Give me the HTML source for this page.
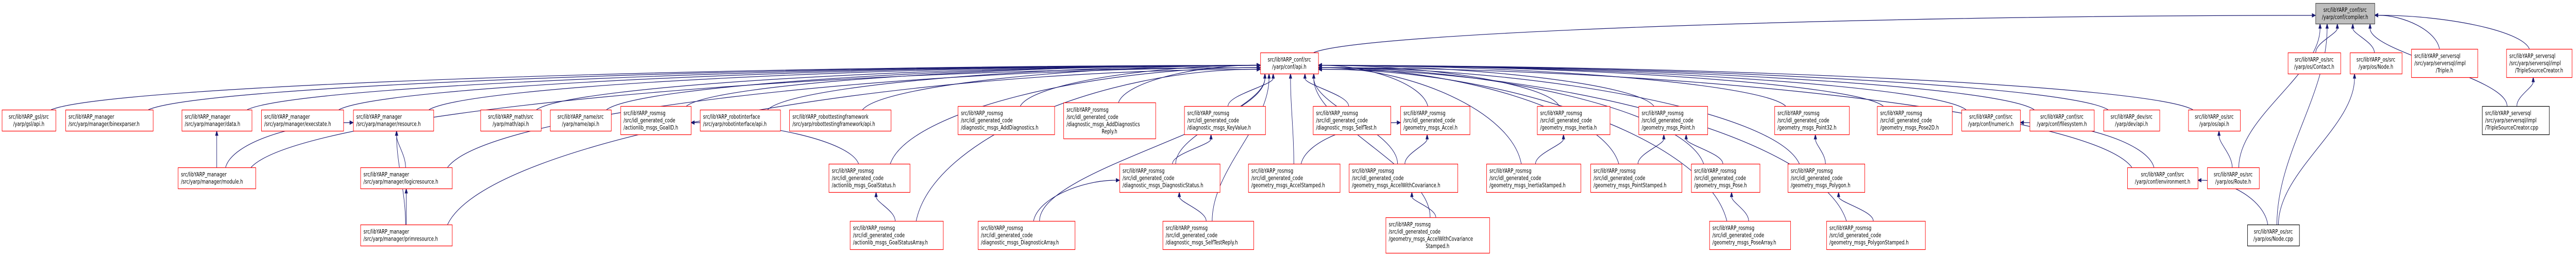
<!DOCTYPE html>
<html><head><meta charset="utf-8"><title>compiler.h include graph</title>
<style>html,body{margin:0;padding:0;background:#fff;width:100%;height:100%;overflow:hidden;}svg{display:block;width:100vw;height:100vh;}</style></head>
<body>
<svg id="g" xmlns="http://www.w3.org/2000/svg" viewBox="0 0 6804 497" preserveAspectRatio="none"></svg>
<script>
// Node data: id, x, y, w, h, label lines, style, alignment
const nodeIds = ["C","A","contact","nodeh","triple","tsch","gsl","binexp","data","exec","resource","math","name","goalid","robint","rtf","adddiag","adddiagr","keyvalue","selftest","accel","inertia","point","point32","pose2d","numeric","filesystem","devapi","osapi","tsccpp","module","logic","goalstatus","diagstatus","accelst","accelcov","inertiast","pointst","pose","polygon","environment","route","prim","goalarr","diagarr","selfrep","accelcovst","posearr","polyst","nodecpp"];
const nodeBoxes = {
C:[6116,6,156,40],A:[3329,102,153,41],contact:[6043,102,139,41],nodeh:[6207,102,137,41],triple:[6369,95,175,55],tsch:[6620,95,173,55],
gsl:[5,213,142,41],binexp:[173,213,231,41],data:[480,213,185,41],exec:[690,213,217,41],resource:[933,213,212,41],math:[1269,213,160,41],name:[1453,213,161,41],
goalid:[1639,206,186,55],robint:[1849,213,212,41],rtf:[2085,213,268,41],adddiag:[2530,206,255,55],adddiagr:[2809,199,243,70],keyvalue:[3128,206,214,55],
selftest:[3468,206,205,55],accel:[3699,206,183,55],inertia:[4060,206,192,55],point:[4328,206,182,55],point32:[4687,206,197,55],pose2d:[4958,206,198,55],
numeric:[5181,213,155,41],filesystem:[5361,213,170,41],devapi:[5556,213,148,41],osapi:[5780,213,137,41],tsccpp:[6556,206,177,55],
module:[470,325,205,41],logic:[952,325,242,41],goalstatus:[2189,318,214,55],diagstatus:[2957,318,265,55],accelst:[3297,318,242,55],accelcov:[3563,318,287,55],
inertiast:[3926,318,249,55],pointst:[4201,318,241,55],pose:[4467,318,181,55],polygon:[4722,318,203,55],environment:[5619,325,186,41],route:[5830,325,137,41],
prim:[952,436,242,41],goalarr:[2245,429,246,55],diagarr:[2583,429,256,55],selfrep:[3071,429,240,55],accelcovst:[3660,422,274,69],posearr:[4515,429,214,55],polyst:[4824,429,261,55],nodecpp:[5936,436,137,41]
};
const R="src/libYARP_rosmsg", G="/src/idl_generated_code";
const nodeLabels = {
C:["src/libYARP_conf/src","/yarp/conf/compiler.h"],A:["src/libYARP_conf/src","/yarp/conf/api.h"],
contact:["src/libYARP_os/src","/yarp/os/Contact.h"],nodeh:["src/libYARP_os/src","/yarp/os/Node.h"],
triple:["src/libYARP_serversql","/src/yarp/serversql/impl","/Triple.h"],tsch:["src/libYARP_serversql","/src/yarp/serversql/impl","/TripleSourceCreator.h"],
gsl:["src/libYARP_gsl/src","/yarp/gsl/api.h"],binexp:["src/libYARP_manager","/src/yarp/manager/binexparser.h"],data:["src/libYARP_manager","/src/yarp/manager/data.h"],
exec:["src/libYARP_manager","/src/yarp/manager/execstate.h"],resource:["src/libYARP_manager","/src/yarp/manager/resource.h"],
math:["src/libYARP_math/src","/yarp/math/api.h"],name:["src/libYARP_name/src","/yarp/name/api.h"],
goalid:[R,G,"/actionlib_msgs_GoalID.h"],robint:["src/libYARP_robotinterface","/src/yarp/robotinterface/api.h"],
rtf:["src/libYARP_robottestingframework","/src/yarp/robottestingframework/api.h"],
adddiag:[R,G,"/diagnostic_msgs_AddDiagnostics.h"],adddiagr:[R,G,"/diagnostic_msgs_AddDiagnostics","Reply.h"],keyvalue:[R,G,"/diagnostic_msgs_KeyValue.h"],
selftest:[R,G,"/diagnostic_msgs_SelfTest.h"],accel:[R,G,"/geometry_msgs_Accel.h"],inertia:[R,G,"/geometry_msgs_Inertia.h"],point:[R,G,"/geometry_msgs_Point.h"],
point32:[R,G,"/geometry_msgs_Point32.h"],pose2d:[R,G,"/geometry_msgs_Pose2D.h"],
numeric:["src/libYARP_conf/src","/yarp/conf/numeric.h"],filesystem:["src/libYARP_conf/src","/yarp/conf/filesystem.h"],devapi:["src/libYARP_dev/src","/yarp/dev/api.h"],
osapi:["src/libYARP_os/src","/yarp/os/api.h"],tsccpp:["src/libYARP_serversql","/src/yarp/serversql/impl","/TripleSourceCreator.cpp"],
module:["src/libYARP_manager","/src/yarp/manager/module.h"],logic:["src/libYARP_manager","/src/yarp/manager/logicresource.h"],
goalstatus:[R,G,"/actionlib_msgs_GoalStatus.h"],diagstatus:[R,G,"/diagnostic_msgs_DiagnosticStatus.h"],accelst:[R,G,"/geometry_msgs_AccelStamped.h"],
accelcov:[R,G,"/geometry_msgs_AccelWithCovariance.h"],inertiast:[R,G,"/geometry_msgs_InertiaStamped.h"],pointst:[R,G,"/geometry_msgs_PointStamped.h"],
pose:[R,G,"/geometry_msgs_Pose.h"],polygon:[R,G,"/geometry_msgs_Polygon.h"],environment:["src/libYARP_conf/src","/yarp/conf/environment.h"],
route:["src/libYARP_os/src","/yarp/os/Route.h"],prim:["src/libYARP_manager","/src/yarp/manager/primresource.h"],
goalarr:[R,G,"/actionlib_msgs_GoalStatusArray.h"],diagarr:[R,G,"/diagnostic_msgs_DiagnosticArray.h"],selfrep:[R,G,"/diagnostic_msgs_SelfTestReply.h"],
accelcovst:[R,G,"/geometry_msgs_AccelWithCovariance","Stamped.h"],posearr:[R,G,"/geometry_msgs_PoseArray.h"],polyst:[R,G,"/geometry_msgs_PolygonStamped.h"],
nodecpp:["src/libYARP_os/src","/yarp/os/Node.cpp"]
};
const greyNodes = ["C"];
const blackNodes = ["tsccpp","nodecpp"];
const centeredNodes = ["C","A","contact","nodeh","gsl","math","name","numeric","filesystem","devapi","osapi","environment","route","nodecpp"];
// edges: [source, target]
const toApi = ["gsl","binexp","data","exec","resource","math","name","goalid","robint","rtf","adddiag","adddiagr","keyvalue","selftest","accel","inertia","point","point32","pose2d","numeric","filesystem","devapi","osapi","module","logic","prim","goalstatus","goalarr","diagarr","selfrep","diagstatus","accelst","accelcov","accelcovst","inertiast","pointst","pose","polygon","posearr","polyst","environment"];
const toCompiler = ["A","contact","nodeh","triple","tsch","tsccpp","route","nodecpp"];
const localEdges = [["module","data"],["module","resource"],["logic","resource"],["prim","logic"],["prim","resource"],["goalstatus","goalid"],["goalarr","goalstatus"],["diagarr","diagstatus"],["diagstatus","keyvalue"],["selfrep","diagstatus"],["accelst","accel"],["accelcov","accel"],["accelcovst","accelcov"],["inertiast","inertia"],["pointst","point"],["pose","point"],["posearr","pose"],["polygon","point32"],["polyst","polygon"],["environment","numeric"],["route","osapi"],["nodecpp","environment"],["nodecpp","nodeh"],["tsccpp","tsch"]];

const NS="http://www.w3.org/2000/svg";
const svg=document.getElementById('g');
function mk(t,a,p){const e=document.createElementNS(NS,t);for(const k in a)e.setAttribute(k,a[k]);(p||svg).appendChild(e);return e;}
const edgeLayer=mk('g',{});


const nodeLayer=mk('g',{});



function edge(s,t){
  const [sx0,sy0,sw,sh]=nodeBoxes[s],[tx0,ty0,tw,th]=nodeBoxes[t];
  const scx=sx0+sw/2, tcx=tx0+tw/2, tcy=ty0+th/2;
  const dyv=sy0-(ty0+th);
  let ex,ey,c2x,c2y,side=0;
  const dx=scx-tcx;
  if(Math.abs(dx)>3*Math.max(dyv,30)){
    side=dx<0?-1:1;
    ex=side<0?tx0:tx0+tw;
    ey=tcy+Math.max(-12,Math.min(12,(sy0-ty0)*0.04));
  } else {
    ex=Math.max(tx0+12,Math.min(tx0+tw-12,tcx+dx*0.25));
    ey=ty0+th;
  }
  const sx=Math.max(sx0+12,Math.min(sx0+sw-12,scx-dx*0.05)), sy=sy0;
  let c1x,c1y;
  if(side){c1x=sx+(ex-sx)*0.05;c1y=sy-(sy-ey)*0.55;c2x=sx+(ex-sx)*0.55;c2y=ey;}
  else{c1x=sx;c1y=sy-(sy-ey)*0.35;c2x=ex;c2y=ey+(sy-ey)*0.35;}
  const L=9,W=3.5;
  let ux=ex-c2x,uy=ey-c2y;const n=Math.hypot(ux,uy)||1;ux/=n;uy/=n;
  const bx=ex-ux*L,by=ey-uy*L;
  const grp=mk('g',{},edgeLayer);
  
  
  mk('path',{d:`M${sx},${sy} C${c1x},${c1y} ${c2x},${c2y} ${bx},${by}`,fill:'none',stroke:'#191970','stroke-width':1.2},grp);
  mk('polygon',{points:`${ex},${ey} ${bx-uy*W},${by+ux*W} ${bx+uy*W},${by-ux*W}`,fill:'#191970',stroke:'#191970'},grp);
}
toApi.forEach(s=>edge(s,'A'));
toCompiler.forEach(s=>edge(s,'C'));
localEdges.forEach(e=>edge(e[0],e[1]));

nodeIds.forEach(id=>{
  const [x,y,w,h]=nodeBoxes[id];const lines=nodeLabels[id];
  const grey=greyNodes.includes(id),black=blackNodes.includes(id);
  const grp=mk('g',{},nodeLayer);
  
  
  mk('rect',{x:x+0.5,y:y+0.5,width:w,height:h,fill:grey?'#bfbfbf':'#fff',stroke:grey?'#404040':(black?'#000':'#ff0000'),'stroke-width':1.2},grp);
  const cen=centeredNodes.includes(id);
  const top=y+h/2-(lines.length-1)*7+4;
  lines.forEach((ln,i)=>{
    const lastC=(i===lines.length-1&&(lines.length===4||(id==='triple')||id==='tsch'));
    const c=cen||lastC;
    const t=mk('text',{x:c?x+w/2:x+8,y:top+i*14,'text-anchor':c?'middle':'start','font-family':'"DejaVu Sans","Liberation Sans",sans-serif','font-size':'11.5',fill:'#000'},grp);
    t.textContent=ln;
  });
});
</script>
</body></html>
